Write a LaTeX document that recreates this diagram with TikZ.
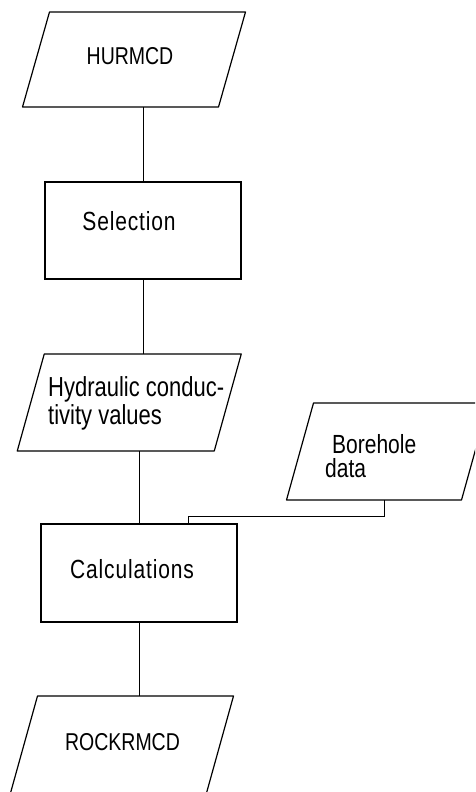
\documentclass[tikz,border=0pt]{standalone}
\usepackage{fontspec}
\setmainfont{Liberation Sans}
\newfontfamily\lettering[LetterSpace=4]{Liberation Sans}

\begin{document}
\begin{tikzpicture}[x=1pt,y=-1pt,
    data/.style={rectangle,inner sep=0pt,outer sep=0pt,minimum height=97pt},
    proc/.style={draw,rectangle,inner sep=0pt,outer sep=0pt,minimum width=196pt,line width=1.2pt},
    box/.style={line width=1.2pt,line join=round},
    txt/.style={inner sep=0pt,yscale=1.25,font=\lettering\fontsize{21}{22.4}\selectfont},
    caps/.style={txt,font=\fontsize{19.5}{22.4}\selectfont},
    link/.style={line width=0.7pt}]
  \useasboundingbox (0,0) rectangle (475,792);
  \clip (0,0) rectangle (475,792);

  % boxes
  \node[data,minimum width=196pt,minimum height=95pt] (hur) at (134,59.5) {};
  \node[proc,minimum height=97pt] (sel) at (143,230.5) {};
  \node[data,minimum width=197pt] (hyd) at (129.25,402.5) {};
  \node[data,minimum width=175pt] (bore) at (387.5,451.5) {};
  \node[proc,minimum height=98pt] (calc) at (139,573) {};
  \node[data,minimum width=196pt] (rock) at (122,744.5) {};

  % slanted outlines of the data boxes
  \foreach \n in {hur,hyd,bore,rock}
    \draw[box] ([xshift=13.5pt]\n.north west) -- ([xshift=13.5pt]\n.north east)
      -- ([xshift=-13.5pt]\n.south east) -- ([xshift=-13.5pt]\n.south west) -- cycle;

  % texts
  \node[caps,anchor=base] (hurtxt) at (130,65) {HURMCD};
  \node[txt,anchor=base] (seltxt) at (129,230) {Selection};
  \node[txt,anchor=north west,align=left,font=\fontsize{22}{22.4}\selectfont] (hydtxt) at (48,376)
    {Hydraulic conduc-\\tivity values};
  \node[txt,anchor=north west,align=left,font=\fontsize{21}{19.2}\selectfont] (boretxt) at (325,434)
    {\hspace*{7pt}Borehole\\data};
  \node[txt,anchor=base] (calctxt) at (132,578) {Calculations};
  \node[caps,anchor=base] (rocktxt) at (122.5,750) {ROCKRMCD};

  % links
  \draw[link] (sel.north) -- (sel.north |- hur.south);
  \draw[link] (sel.south) -- (sel.south |- hyd.north);
  \draw[link] (calc.north) -- (calc.north |- hyd.south);
  \draw[link] (calc.south) -- (calc.south |- rock.north);
  \coordinate (bj) at (188,516);
  \draw[link] ([xshift=-3pt]bore.south) |- (bj) -- (bj |- calc.north);
\end{tikzpicture}
\end{document}
